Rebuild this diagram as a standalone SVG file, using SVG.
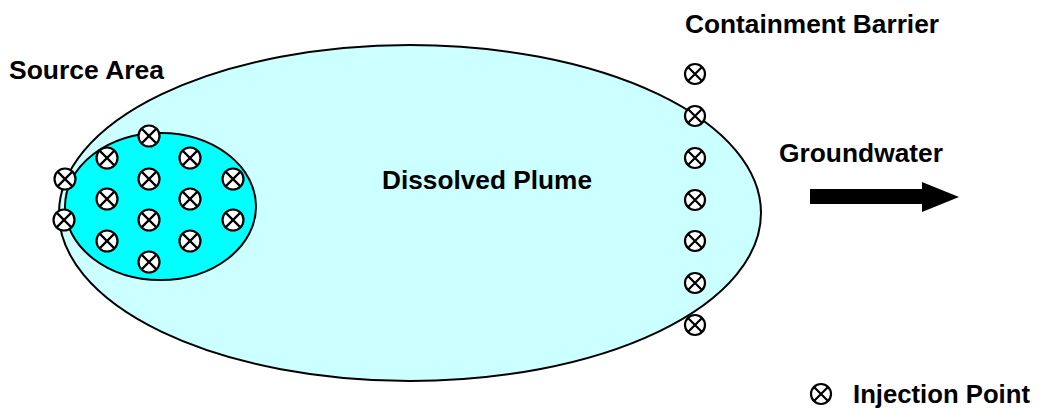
<svg xmlns="http://www.w3.org/2000/svg" xmlns:xlink="http://www.w3.org/1999/xlink" width="1039" height="410" viewBox="0 0 1039 410">
<style>
.lbl{font-family:"Liberation Sans",Arial,sans-serif;font-weight:bold;font-size:26px;fill:#000}
.mk{fill:#fff;stroke:#000;stroke-width:2.2}
.x{stroke:#000;stroke-width:2.2;fill:none}
</style>
<defs>
<g id="ip">
<circle class="mk" r="10"/>
<path class="x" d="M-7,-7L7,7M7,-7L-7,7"/>
</g>
<g id="ipl">
<circle class="mk" r="10.5"/>
<path class="x" d="M-7.4,-7.4L7.4,7.4M7.4,-7.4L-7.4,7.4"/>
</g>
</defs>
<rect width="1039" height="410" fill="#fff"/>
<g id="plume">
<ellipse cx="410" cy="213" rx="351" ry="168" fill="#CCFFFF" stroke="#000" stroke-width="2"/>
<text class="lbl" x="382" y="189" textLength="210" lengthAdjust="spacingAndGlyphs">Dissolved Plume</text>
</g>
<g id="source">
<ellipse cx="160.5" cy="206.5" rx="95.5" ry="73.5" fill="#00FFFF" stroke="#000" stroke-width="2"/>
<text class="lbl" x="9" y="79" textLength="155" lengthAdjust="spacingAndGlyphs">Source Area</text>
</g>
<g id="source-points">
<use xlink:href="#ipl" x="149" y="136"/>
<use xlink:href="#ipl" x="107" y="158"/>
<use xlink:href="#ipl" x="190" y="158"/>
<use xlink:href="#ipl" x="65" y="179"/>
<use xlink:href="#ipl" x="149" y="179"/>
<use xlink:href="#ipl" x="233" y="179"/>
<use xlink:href="#ipl" x="107" y="199"/>
<use xlink:href="#ipl" x="190" y="199"/>
<use xlink:href="#ipl" x="64" y="220"/>
<use xlink:href="#ipl" x="149" y="220"/>
<use xlink:href="#ipl" x="233" y="220"/>
<use xlink:href="#ipl" x="107" y="241"/>
<use xlink:href="#ipl" x="190" y="241"/>
<use xlink:href="#ipl" x="149" y="262"/>
</g>
<g id="barrier">
<text class="lbl" x="685" y="33" textLength="254" lengthAdjust="spacingAndGlyphs">Containment Barrier</text>
<use xlink:href="#ip" x="695" y="74"/>
<use xlink:href="#ip" x="695" y="116"/>
<use xlink:href="#ip" x="695" y="158"/>
<use xlink:href="#ip" x="695" y="200"/>
<use xlink:href="#ip" x="695" y="241"/>
<use xlink:href="#ip" x="695" y="283"/>
<use xlink:href="#ip" x="695" y="325"/>
</g>
<g id="connectors">
<path d="M810,189H922V182L959,197L922,212V204H810Z" fill="#000"/>
</g>
<g id="groundwater">
<text class="lbl" x="779" y="162" textLength="164" lengthAdjust="spacingAndGlyphs">Groundwater</text>
</g>
<g id="legend">
<use xlink:href="#ip" x="821" y="394"/>
<text class="lbl" x="853" y="403" textLength="177" lengthAdjust="spacingAndGlyphs">Injection Point</text>
</g>
</svg>
